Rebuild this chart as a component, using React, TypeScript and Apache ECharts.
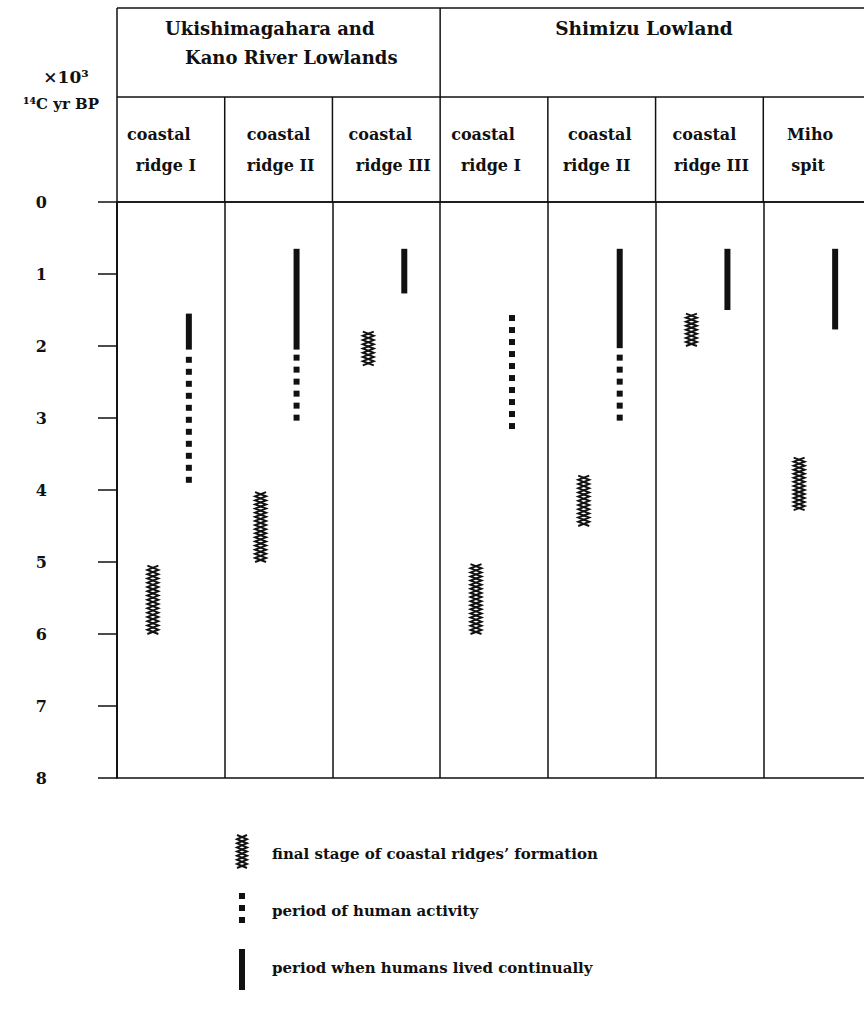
import React, { useEffect, useRef } from "react";
import * as echarts from "echarts";

// ---- data ----
const columnLabels = [
  "coastal\nridge I",
  "coastal\nridge II",
  "coastal\nridge III",
  "coastal\nridge I",
  "coastal\nridge II",
  "coastal\nridge III",
  "Miho\nspit",
];
const regionLeft = ["Ukishimagahara and", "Kano River Lowlands"];
const regionRight = "Shimizu Lowland";
const yTickValues = [0, 1, 2, 3, 4, 5, 6, 7, 8];
const unitLabel = "×10³";
const axisLabelText = "¹⁴C yr BP";

// [column index, start (×10³ 14C yr BP), end]
const ridgeFormation = [
  [0, 5.05, 6.0],
  [1, 4.03, 5.0],
  [2, 1.8, 2.27],
  [3, 5.03, 6.0],
  [4, 3.8, 4.5],
  [5, 1.55, 2.0],
  [6, 3.55, 4.28],
];
const humanActivity = [
  [0, 2.15, 4.02],
  [1, 2.12, 3.05],
  [3, 1.57, 3.3],
  [4, 2.12, 3.05],
];
const continualLiving = [
  [0, 1.55, 2.05],
  [1, 0.65, 2.05],
  [2, 0.65, 1.27],
  [4, 0.65, 2.03],
  [5, 0.65, 1.5],
  [6, 0.65, 1.77],
];
const legendLabels = [
  "final stage of coastal ridges’ formation",
  "period of human activity",
  "period when humans lived continually",
];

// ---- layout / style ----
const W = 864;
const H = 1010;
const CHART_W = 872;
const GRID_LEFT = 117;
const GRID_TOP = 202;
const GRID_W = 754;
const GRID_H = 576;
const COL_W = GRID_W / columnLabels.length;
const INK = "#111";
const FONT = "DejaVu Serif";
const LW = 1.5;
// horizontal nudges of the two header lines in each column (typeset offsets)
const labelNudge = [
  [-12, -5],
  [0, 2],
  [-6, 7],
  [-11, -3],
  [-2, -5],
  [-5, 2],
  [-7, -9],
];

function hatchShapes(x: number, y1: number, y2: number, halfW: number) {
  const n = Math.max(1, Math.round((y2 - y1) / 4.2));
  const step = (y2 - y1) / n;
  const a: number[][] = [];
  const b: number[][] = [];
  for (let i = 0; i <= n; i++) {
    const y = y1 + i * step;
    const left = i % 2 === 0;
    a.push([left ? x - halfW : x + halfW, y]);
    b.push([left ? x + halfW : x - halfW, y]);
  }
  return [
    { type: "polyline", shape: { points: a }, style: { stroke: INK, lineWidth: 1.9, fill: "none" } },
    { type: "polyline", shape: { points: b }, style: { stroke: INK, lineWidth: 1.9, fill: "none" } },
  ];
}

function dotShapes(x: number, y1: number, y2: number) {
  const out: any[] = [];
  const size = 6;
  const gap = 12;
  for (let y = y1; y + size <= y2 + 1; y += gap) {
    out.push({ type: "rect", shape: { x: x - size / 2, y, width: size, height: size }, style: { fill: INK } });
  }
  return out;
}

function makeRender(kind: number) {
  return (params: any, api: any) => {
    const col = api.value(0);
    const s = api.value(1);
    const e = api.value(2);
    const xc = api.coord([col, 0])[0];
    const y1 = api.coord([col, s])[1];
    const y2 = api.coord([col, e])[1];
    if (kind === 0) {
      const x = xc - 18;
      return { type: "group", children: hatchShapes(x, y1, y2, 5.5) };
    }
    const x = xc + 18;
    if (kind === 1) {
      return { type: "group", children: dotShapes(x, y1, y2) };
    }
    return {
      type: "rect",
      shape: { x: x - 3, y: y1, width: 6, height: y2 - y1 },
      style: { fill: INK },
    };
  };
}

function nudgePadding(d: number) {
  return d < 0 ? [0, -2 * d, 0, 0] : [0, 0, 0, 2 * d];
}

export default function App() {
  const ref = useRef<HTMLDivElement>(null);

  useEffect(() => {
    if (!ref.current) return;
    const chart = echarts.init(ref.current, null, { renderer: "svg" });

    const textStyle = (size: number) => ({
      fill: INK,
      fontFamily: FONT,
      fontWeight: "bold",
      fontSize: size,
    });

    const rich: Record<string, any> = {};
    labelNudge.forEach((nd, i) => {
      nd.forEach((d, j) => {
        rich[`c${i}l${j}`] = {
          color: INK,
          fontFamily: FONT,
          fontWeight: "bold",
          fontSize: 16,
          lineHeight: 31,
          padding: nudgePadding(d),
        };
      });
    });

    const graphic: any[] = [];
    const line = (x1: number, y1: number, x2: number, y2: number) =>
      graphic.push({
        type: "line",
        shape: { x1, y1, x2, y2 },
        style: { stroke: INK, lineWidth: LW },
        silent: true,
      });

    // header table
    line(GRID_LEFT, 8, CHART_W, 8);
    line(GRID_LEFT, 97, CHART_W, 97);
    line(GRID_LEFT, 8, GRID_LEFT, GRID_TOP);
    line(GRID_LEFT + 3 * COL_W, 8, GRID_LEFT + 3 * COL_W, 97);
    for (let k = 1; k < columnLabels.length; k++) {
      const x = GRID_LEFT + k * COL_W;
      line(x, 97, x, GRID_TOP);
    }
    graphic.push({
      type: "text",
      x: 165,
      y: 28,
      style: { text: regionLeft[0], align: "left", verticalAlign: "middle", ...textStyle(18) },
    });
    graphic.push({
      type: "text",
      x: 185,
      y: 57,
      style: { text: regionLeft[1], align: "left", verticalAlign: "middle", ...textStyle(18) },
    });
    graphic.push({
      type: "text",
      x: 644,
      y: 28,
      style: { text: regionRight, align: "center", verticalAlign: "middle", ...textStyle(18.5) },
    });
    graphic.push({
      type: "text",
      x: 66,
      y: 77,
      style: { text: unitLabel, align: "center", verticalAlign: "middle", ...textStyle(17) },
    });
    graphic.push({
      type: "text",
      x: 61,
      y: 104,
      style: { text: axisLabelText, align: "center", verticalAlign: "middle", ...textStyle(15) },
    });

    // legend
    const lx = 242;
    const legendY = [854, 911, 968];
    graphic.push({ type: "group", children: hatchShapes(lx, 835, 868, 5) });
    graphic.push({ type: "group", children: dotShapes(lx, 893, 923) });
    graphic.push({ type: "rect", shape: { x: lx - 3, y: 949, width: 6, height: 41 }, style: { fill: INK } });
    legendLabels.forEach((t, i) => {
      graphic.push({
        type: "text",
        x: 272,
        y: legendY[i],
        style: { text: t, align: "left", verticalAlign: "middle", ...textStyle(15) },
      });
    });

    chart.setOption({
      animation: false,
      backgroundColor: "#fff",
      grid: {
        left: GRID_LEFT,
        top: GRID_TOP,
        width: GRID_W,
        height: GRID_H,
        show: true,
        borderColor: INK,
        borderWidth: LW,
        containLabel: false,
      },
      xAxis: {
        type: "category",
        position: "top",
        data: columnLabels,
        boundaryGap: true,
        axisLine: { show: true, lineStyle: { color: INK, width: LW } },
        axisTick: { show: false },
        splitLine: { show: true, lineStyle: { color: INK, width: LW } },
        axisLabel: {
          interval: 0,
          margin: 21,
          color: INK,
          fontFamily: FONT,
          fontWeight: "bold",
          fontSize: 16,
          lineHeight: 31,
          formatter: (v: string, idx: number) =>
            v
              .split("\n")
              .map((part, j) => `{c${idx}l${j}|${part}}`)
              .join("\n"),
          rich,
        },
      },
      yAxis: {
        type: "value",
        inverse: true,
        min: 0,
        max: 8,
        interval: 1,
        axisLine: { show: true, lineStyle: { color: INK, width: LW } },
        axisTick: { show: true, length: 19, lineStyle: { color: INK, width: LW } },
        splitLine: { show: false },
        axisLabel: {
          margin: 70,
          color: INK,
          fontFamily: FONT,
          fontWeight: "bold",
          fontSize: 16,
          formatter: (v: number) => (yTickValues.includes(v) ? String(v) : ""),
        },
      },
      series: [
        {
          type: "custom",
          name: legendLabels[0],
          renderItem: makeRender(0),
          data: ridgeFormation,
          encode: { x: 0, y: [1, 2] },
        },
        {
          type: "custom",
          name: legendLabels[1],
          renderItem: makeRender(1),
          data: humanActivity,
          encode: { x: 0, y: [1, 2] },
        },
        {
          type: "custom",
          name: legendLabels[2],
          renderItem: makeRender(2),
          data: continualLiving,
          encode: { x: 0, y: [1, 2] },
        },
      ],
      graphic,
    });

    return () => chart.dispose();
  }, []);

  return (
    <div
      style={{
        position: "absolute",
        left: 0,
        top: 0,
        width: W,
        height: H,
        overflow: "hidden",
        background: "#fff",
      }}
    >
      <div ref={ref} style={{ width: CHART_W, height: H }} />
    </div>
  );
}
